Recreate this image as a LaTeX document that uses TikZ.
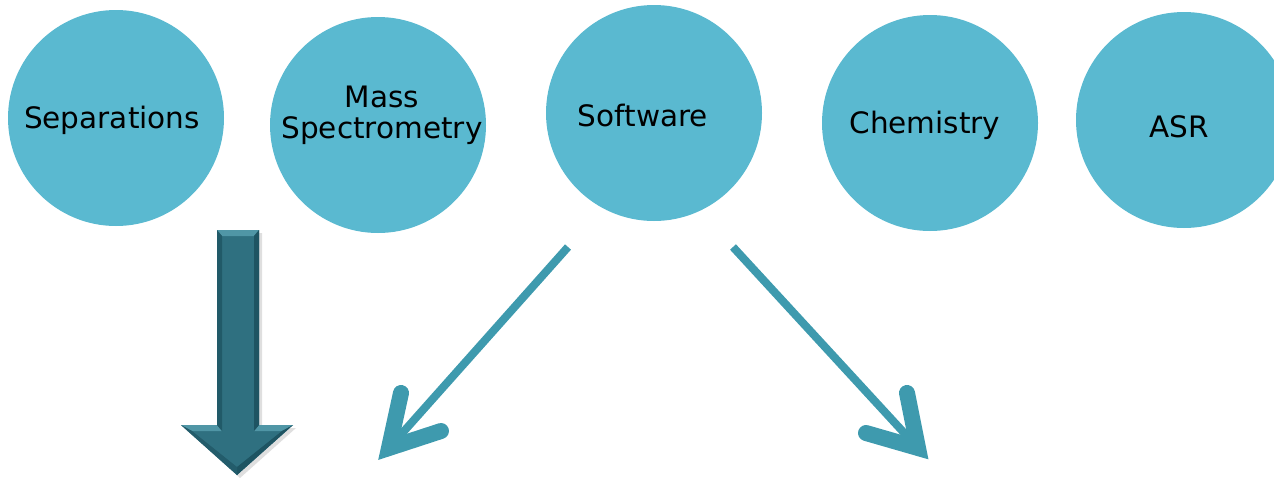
\documentclass[tikz,border=0pt]{standalone}
\usepackage{fontspec}
\setmainfont{DejaVu Sans}
\definecolor{circfill}{RGB}{90,185,208}
\definecolor{arrowcol}{RGB}{62,154,174}
\definecolor{bigarrow}{RGB}{47,112,128}
\definecolor{bigarrowlight}{RGB}{80,150,166}
\definecolor{bigarrowdark}{RGB}{30,84,98}
\begin{document}
\begin{tikzpicture}[x=1pt,y=-1pt,
  circ/.style={circle,fill=circfill,draw=none,minimum size=216pt,inner sep=0pt},
  lbl/.style={align=center,font=\fontsize{29.5}{31}\selectfont,text=black,inner sep=0pt},
  thinline/.style={draw=arrowcol,line width=8pt},
  barb/.style={draw=arrowcol,line width=16pt,line cap=round,line join=miter,miter limit=10}]
\useasboundingbox (0,0) rectangle (1274,477);
% circles
\node[circ] (sep) at (116,118) {};
\node[circ] (ms) at (378,125) {};
\node[circ] (sw) at (654,113) {};
\node[circ] (chem) at (930,123) {};
\node[circ] (asr) at (1184,120) {};
% labels
\node[lbl] (sept) at (112,120) {Separations};
\node[lbl] (mst) at (382,115) {Mass\\Spectrometry};
\node[lbl] (swt) at (643,115) {Software};
\node[lbl] (chemt) at (925,125) {Chemistry};
\node[lbl] (asrt) at (1179,127) {ASR};
% thin arrows from Software
\coordinate (l0) at (568,247);
\coordinate (ltip) at (389,448);
\coordinate (lb1) at (401,393);
\coordinate (lb2) at (441,431);
\coordinate (r0) at (733,247);
\coordinate (rtip) at (918,448);
\coordinate (rb1) at (907,393);
\coordinate (rb2) at (866,433);
\draw[thinline] (l0) -- (ltip);
\draw[barb] (lb1) -- (ltip) -- (lb2);
\draw[thinline] (r0) -- (rtip);
\draw[barb] (rb1) -- (rtip) -- (rb2);
% big down arrow under Separations
\coordinate (ba1) at (217,230);
\coordinate (ba2) at (259,230);
\coordinate (ba3) at (259,425);
\coordinate (ba4) at (293,425);
\coordinate (batip) at (237,475);
\coordinate (ba6) at (181,425);
\coordinate (ba7) at (217,425);
\fill[black!25,opacity=0.5] ([shift={(3,3)}]ba1) -- ([shift={(3,3)}]ba2) -- ([shift={(3,3)}]ba3) -- ([shift={(3,3)}]ba4) -- ([shift={(3,3)}]batip) -- ([shift={(3,3)}]ba6) -- ([shift={(3,3)}]ba7) -- cycle;
\fill[bigarrow] (ba1) -- (ba2) -- (ba3) -- (ba4) -- (batip) -- (ba6) -- (ba7) -- cycle;
% bevel highlights
\fill[bigarrowlight] (ba1) -- (ba2) -- (254,236) -- (222,236) -- cycle;
\fill[bigarrowlight] (ba6) -- (ba7) -- (222,431) -- (192,431) -- cycle;
\fill[bigarrowlight] (ba3) -- (ba4) -- (282,431) -- (254,431) -- cycle;
\fill[bigarrowdark] (ba2) -- (ba3) -- (254,431) -- (254,236) -- cycle;
\fill[bigarrowdark!80!bigarrow] (ba1) -- (ba7) -- (222,431) -- (222,236) -- cycle;
\fill[bigarrowdark] (ba4) -- (batip) -- (237,467) -- (282,431) -- cycle;
\fill[bigarrowdark!70!bigarrow] (ba6) -- (batip) -- (237,467) -- (192,431) -- cycle;
\end{tikzpicture}
\end{document}
